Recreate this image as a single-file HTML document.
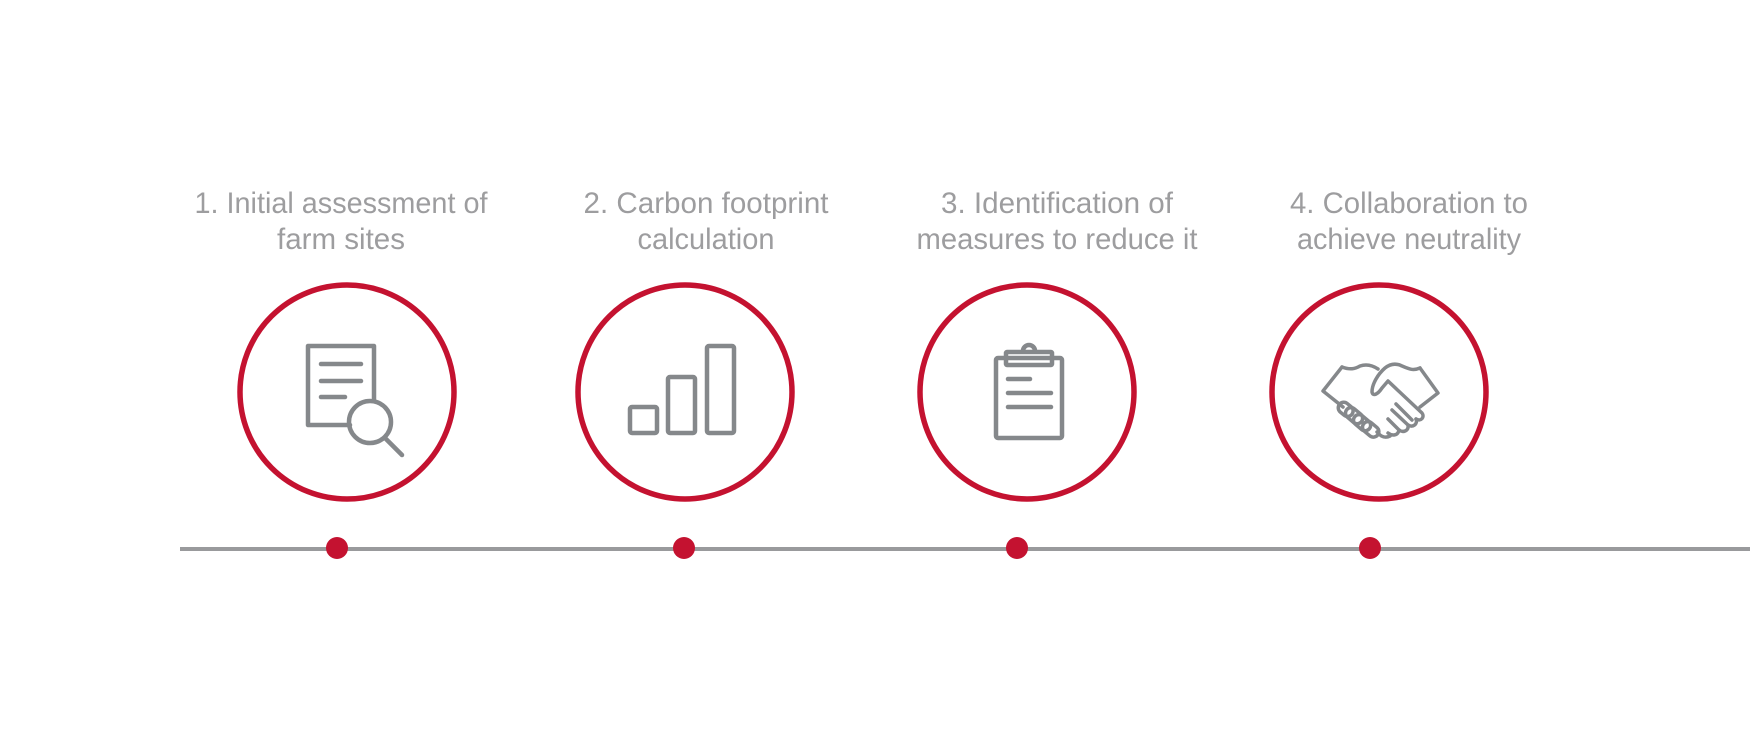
<!DOCTYPE html>
<html><head><meta charset="utf-8"><style>
html,body{margin:0;padding:0;background:#fff;}
svg{display:block;}
text{font-family:"Liberation Sans",sans-serif;font-size:30px;fill:#9d9d9f;text-anchor:middle;}
</style></head><body>
<svg width="1750" height="750" viewBox="0 0 1750 750" xmlns="http://www.w3.org/2000/svg">
<rect width="1750" height="750" fill="#fff"/>
<text x="341" y="213" textLength="293" lengthAdjust="spacingAndGlyphs">1. Initial assessment of</text>
<text x="341" y="249" textLength="128" lengthAdjust="spacingAndGlyphs">farm sites</text>
<text x="706" y="213" textLength="245" lengthAdjust="spacingAndGlyphs">2. Carbon footprint</text>
<text x="706" y="249" textLength="137" lengthAdjust="spacingAndGlyphs">calculation</text>
<text x="1057" y="213" textLength="232" lengthAdjust="spacingAndGlyphs">3. Identification of</text>
<text x="1057" y="249" textLength="281" lengthAdjust="spacingAndGlyphs">measures to reduce it</text>
<text x="1409" y="213" textLength="238" lengthAdjust="spacingAndGlyphs">4. Collaboration to</text>
<text x="1409" y="249" textLength="224" lengthAdjust="spacingAndGlyphs">achieve neutrality</text>

<line x1="180" y1="549" x2="1750" y2="549" stroke="#999a9c" stroke-width="4"/>
<g fill="#c41230">
<circle cx="337" cy="548" r="11"/><circle cx="684" cy="548" r="11"/>
<circle cx="1017" cy="548" r="11"/><circle cx="1370" cy="548" r="11"/>
</g>
<g fill="none" stroke="#c41230" stroke-width="5.5">
<circle cx="347" cy="392" r="107"/><circle cx="685" cy="392" r="107"/>
<circle cx="1027" cy="392" r="107"/><circle cx="1379" cy="392" r="107"/>
</g>
<g fill="none" stroke="#85888b" stroke-width="4.5" stroke-linecap="round" stroke-linejoin="round">
<path d="M350 425 H308 V346 H374 V400"/>
<line x1="321" y1="364" x2="361" y2="364"/><line x1="321" y1="381" x2="361" y2="381"/><line x1="321" y1="397" x2="345" y2="397"/>
<circle cx="370" cy="422" r="21"/>
<line x1="385" y1="438" x2="402" y2="455"/>
<rect x="630" y="407" width="27" height="26" rx="2"/>
<rect x="668" y="377" width="27" height="56" rx="2"/>
<rect x="707" y="346" width="27" height="87" rx="2"/>
<rect x="996" y="358" width="66" height="80" rx="2"/>
<rect x="1006" y="352" width="46" height="13" rx="1"/>
<path d="M1023 351 a6 6 0 0 1 12 0"/>
<line x1="1008" y1="379" x2="1030" y2="379"/><line x1="1008" y1="393" x2="1051" y2="393"/><line x1="1008" y1="407" x2="1051" y2="407"/>
<g stroke-width="3.5">
<path d="M1342 367 L1323 391 L1343 407"/>
<path d="M1342 367 C1350 370 1355 369 1360 366 C1366 364 1372 365 1378 369"/>
<path d="M1420 368 L1438 393 L1420 407"/>
<path d="M1420 368 C1413 371 1409 369 1402 366 C1396 363 1390 364 1385 368 C1378 374 1372 384 1372 392 C1373 397 1378 394 1382 388 L1388 381 L1422 413 C1425 417 1421 422 1416 419"/>
<path d="M1412 420 L1396 404"/>
<path d="M1416 419 C1418 424 1413 428 1408 425 L1392 410"/>
<path d="M1408 425 C1409 431 1403 433 1399 430 L1388 419"/>
<path d="M1399 430 C1398 436 1392 436 1388 433"/>
<rect x="1338" y="404" width="16" height="11" rx="5.5" transform="rotate(40 1346 409)"/>
<rect x="1345" y="410" width="19" height="11" rx="5.5" transform="rotate(40 1354 415)"/>
<rect x="1353" y="417" width="19" height="11" rx="5.5" transform="rotate(40 1362 422)"/>
<rect x="1362" y="424" width="18" height="11" rx="5.5" transform="rotate(40 1371 429)"/>
<path d="M1377 432 C1382 438 1386 438 1390 436"/>
</g>
</g>
</svg>
</body></html>
